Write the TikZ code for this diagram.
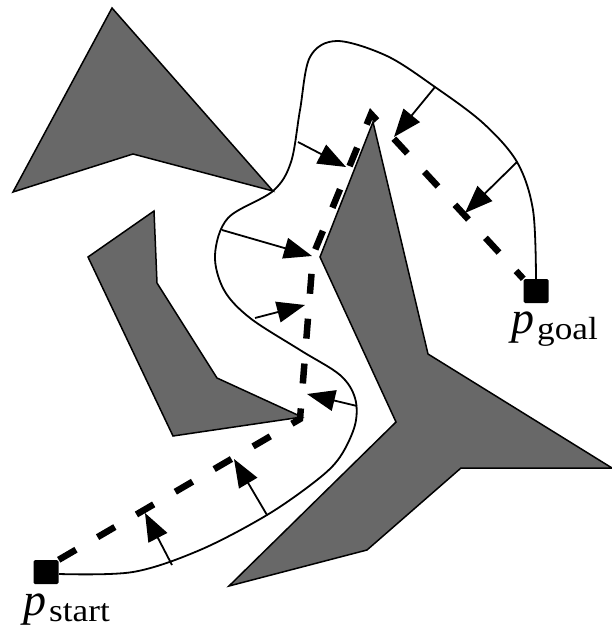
\documentclass[tikz,border=0pt]{standalone}
\usepackage{fontspec}
\setmainfont{Liberation Serif}
\usetikzlibrary{arrows.meta}
\definecolor{obgray}{RGB}{104,104,104}
\begin{document}
\begin{tikzpicture}[x=1pt,y=-1pt,
  obst/.style={fill=obgray, draw=black, line width=1.5pt, line join=miter},
  band/.style={draw=black, line width=1.8pt},
  force/.style={draw=black, line width=1.8pt, -{Triangle[length=28pt,width=21pt]}},
  dashpath/.style={draw=black, line width=6.5pt, dash pattern=on 20pt off 25pt},
  endsq/.style={fill=black, minimum width=25pt, minimum height=24pt, inner sep=0pt, rounded corners=1.5pt},
  lbl/.style={anchor=base west, inner sep=0pt}]
\useasboundingbox (0,0) rectangle (612,631);
% obstacles
\draw[obst] (112,8) -- (273,191) -- (133,154) -- (13,192) -- cycle;
\draw[obst] (154,211) -- (157,283) -- (217,378) -- (302,417) -- (173,436) -- (88,257) -- cycle;
\draw[obst] (373,122) -- (428,354) -- (612,468) -- (461,468) -- (367,550) -- (229,586) -- (396,422) -- (320,257) -- cycle;
% end points
\node[endsq] (start) at (46,572) {};
\node[endsq] (goal) at (536,291) {};
% deformed band
\draw[band] plot[smooth, tension=0.55] coordinates {(59,574) (133,572) (200,550) (267,515) (317,480) (340,457) (355,425) (355,398) (340,375) (300,350) (250,318) (224,290) (215,255) (228,218) (273,191) (291,162) (300,110) (310,57) (337,41) (387,56) (435,87) (483,123) (517,162) (533,210) (536,279)};
% dashed path
\coordinate (d1) at (300,419);
\coordinate (d2) at (313,255);
\coordinate (d3) at (371,114);
\draw[dashpath] (start.north east) -- (d1) -- (d2) -- (d3) -- (goal.north west);
% force arrows
\coordinate (b1) at (172,565); \coordinate (t1) at (145,513);
\coordinate (b2) at (267,515); \coordinate (t2) at (234,459);
\coordinate (b3) at (357,406); \coordinate (t3) at (307,394);
\coordinate (b4) at (255,318); \coordinate (t4) at (305,305);
\coordinate (b5) at (222,230); \coordinate (t5) at (312,256);
\coordinate (b6) at (298,142); \coordinate (t6) at (346,167);
\coordinate (b7) at (435,87);  \coordinate (t7) at (394,137);
\coordinate (b8) at (517,162); \coordinate (t8) at (465,213);
\foreach \i in {1,...,8} \draw[force] (b\i) -- (t\i);
% labels
\node[lbl] (pgoal) at (511,333) {\fontsize{46pt}{46pt}\selectfont\itshape p};
\node[lbl] (sgoal) at (537,339) {\scalebox{1.1}[1]{\fontsize{32pt}{32pt}\selectfont goal}};
\node[lbl] (pstart) at (23,615) {\fontsize{46pt}{46pt}\selectfont\itshape p};
\node[lbl] (sstart) at (49,621) {\scalebox{1.1}[1]{\fontsize{32pt}{32pt}\selectfont start}};
\end{tikzpicture}
\end{document}
